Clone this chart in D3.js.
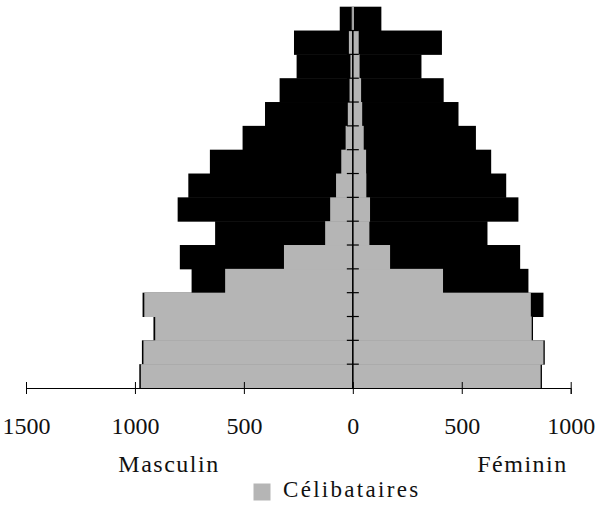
<!DOCTYPE html>
<html>
<head>
<meta charset="utf-8">
<script src="https://cdn.jsdelivr.net/npm/d3@7"></script>
<style>
  html, body { margin: 0; padding: 0; background: #fff; }
</style>
</head>
<body>
<svg id="chart" width="599" height="508"></svg>
<script>
// Age groups, bottom (youngest) to top (oldest)
const ages = ["0-4","5-9","10-14","15-19","20-24","25-29","30-34","35-39","40-44","45-49","50-54","55-59","60-64","65-69","70-74","75+"];
// Masculin: total and célibataires
const maleTotal   = [980, 968, 915, 965, 740, 794, 632, 804, 755, 656, 506, 403, 336, 258, 270, 60];
const maleSingle  = [973, 961, 907, 957, 586, 316, 127, 104,  77,  53,  33,  23,  15,  11,  18,  5];
// Féminin: total and célibataires
const femaleTotal  = [868, 881, 827, 875, 806, 768, 618, 760, 704, 635, 565, 485, 417, 315, 409, 131];
const femaleSingle = [862, 875, 821, 817, 414, 171,  76,  79,  62,  61,  50,  43,  38,  31,  27,  5];
// Axis tick values (signed) and their labels
const tickValues = [-1500, -1000, -500, 0, 500, 1000];
const tickLabels = ["1500", "1000", "500", "0", "500", "1000"];
const sideLabels = ["Masculin", "Féminin"];
const legendLabel = "Célibataires";

const FONT = "Liberation Serif";

const svg = d3.select("#chart");
const x = d3.scaleLinear().domain([-1500, 1000]).range([26, 570.7]);
const y = d3.scaleBand().domain(ages).range([388, 6.7]).padding(0);

const rows = ages.map((a, i) => ({
  age: a, mT: maleTotal[i], mS: maleSingle[i], fT: femaleTotal[i], fS: femaleSingle[i]
}));

const grey = "#b5b5b5";
const g = svg.append("g");

// total bars (black)
g.selectAll("rect.mT").data(rows).join("rect")
  .attr("x", d => x(-d.mT)).attr("width", d => x(0) - x(-d.mT))
  .attr("y", d => y(d.age)).attr("height", y.bandwidth() + 0.5)
  .attr("fill", "#000");
g.selectAll("rect.fT").data(rows).join("rect")
  .attr("x", x(0)).attr("width", d => x(d.fT) - x(0))
  .attr("y", d => y(d.age)).attr("height", y.bandwidth() + 0.5)
  .attr("fill", "#000");

// single bars (grey)
g.selectAll("rect.mS").data(rows).join("rect")
  .attr("x", d => x(-d.mS)).attr("width", d => x(0) - x(-d.mS))
  .attr("y", d => y(d.age)).attr("height", y.bandwidth() + 0.5)
  .attr("fill", grey);
g.selectAll("rect.fS").data(rows).join("rect")
  .attr("x", x(0)).attr("width", d => x(d.fS) - x(0))
  .attr("y", d => y(d.age)).attr("height", y.bandwidth() + 0.5)
  .attr("fill", grey);

// central vertical axis with ticks at row boundaries
const topRow = ages[ages.length - 1];
g.append("line")
  .attr("x1", x(0)).attr("x2", x(0))
  .attr("y1", y(topRow) + y.bandwidth()).attr("y2", 388)
  .attr("stroke", "#000").attr("stroke-width", 1.6);
g.selectAll("line.rt").data(ages.slice(0, ages.length - 1)).join("line")
  .attr("x1", x(0) - 6).attr("x2", x(0) + 6)
  .attr("y1", d => y(d)).attr("y2", d => y(d))
  .attr("stroke", "#000").attr("stroke-width", 1.2);

// horizontal axis
const axis = d3.axisBottom(x).tickValues(tickValues)
  .tickFormat((d, i) => tickLabels[i]).tickSize(6).tickPadding(0);
const ax = svg.append("g").attr("transform", "translate(0,388)").call(axis)
  .attr("font-family", FONT);
ax.select(".domain").attr("stroke", "#000").attr("stroke-width", 1);
ax.selectAll(".tick line").attr("y1", -6).attr("y2", 6).attr("stroke", "#000");
ax.selectAll(".tick text")
  .attr("y", 45.5).attr("dy", null)
  .attr("font-family", FONT)
  .attr("font-size", 24).attr("fill", "#111");

// side labels
svg.append("text").attr("x", 169).attr("y", 471.7).attr("text-anchor", "middle")
  .attr("font-family", FONT).attr("font-size", 24).attr("fill", "#111")
  .attr("letter-spacing", 1.5).text(sideLabels[0]);
svg.append("text").attr("x", 522.5).attr("y", 471.7).attr("text-anchor", "middle")
  .attr("font-family", FONT).attr("font-size", 24).attr("fill", "#111")
  .attr("letter-spacing", 1.5).text(sideLabels[1]);

// legend
svg.append("rect").attr("x", 253.5).attr("y", 483.5).attr("width", 17).attr("height", 17).attr("fill", grey);
svg.append("text").attr("x", 283).attr("y", 496.7)
  .attr("font-family", FONT).attr("font-size", 23).attr("fill", "#111")
  .attr("letter-spacing", 2.3).text(legendLabel);
</script>
</body>
</html>
